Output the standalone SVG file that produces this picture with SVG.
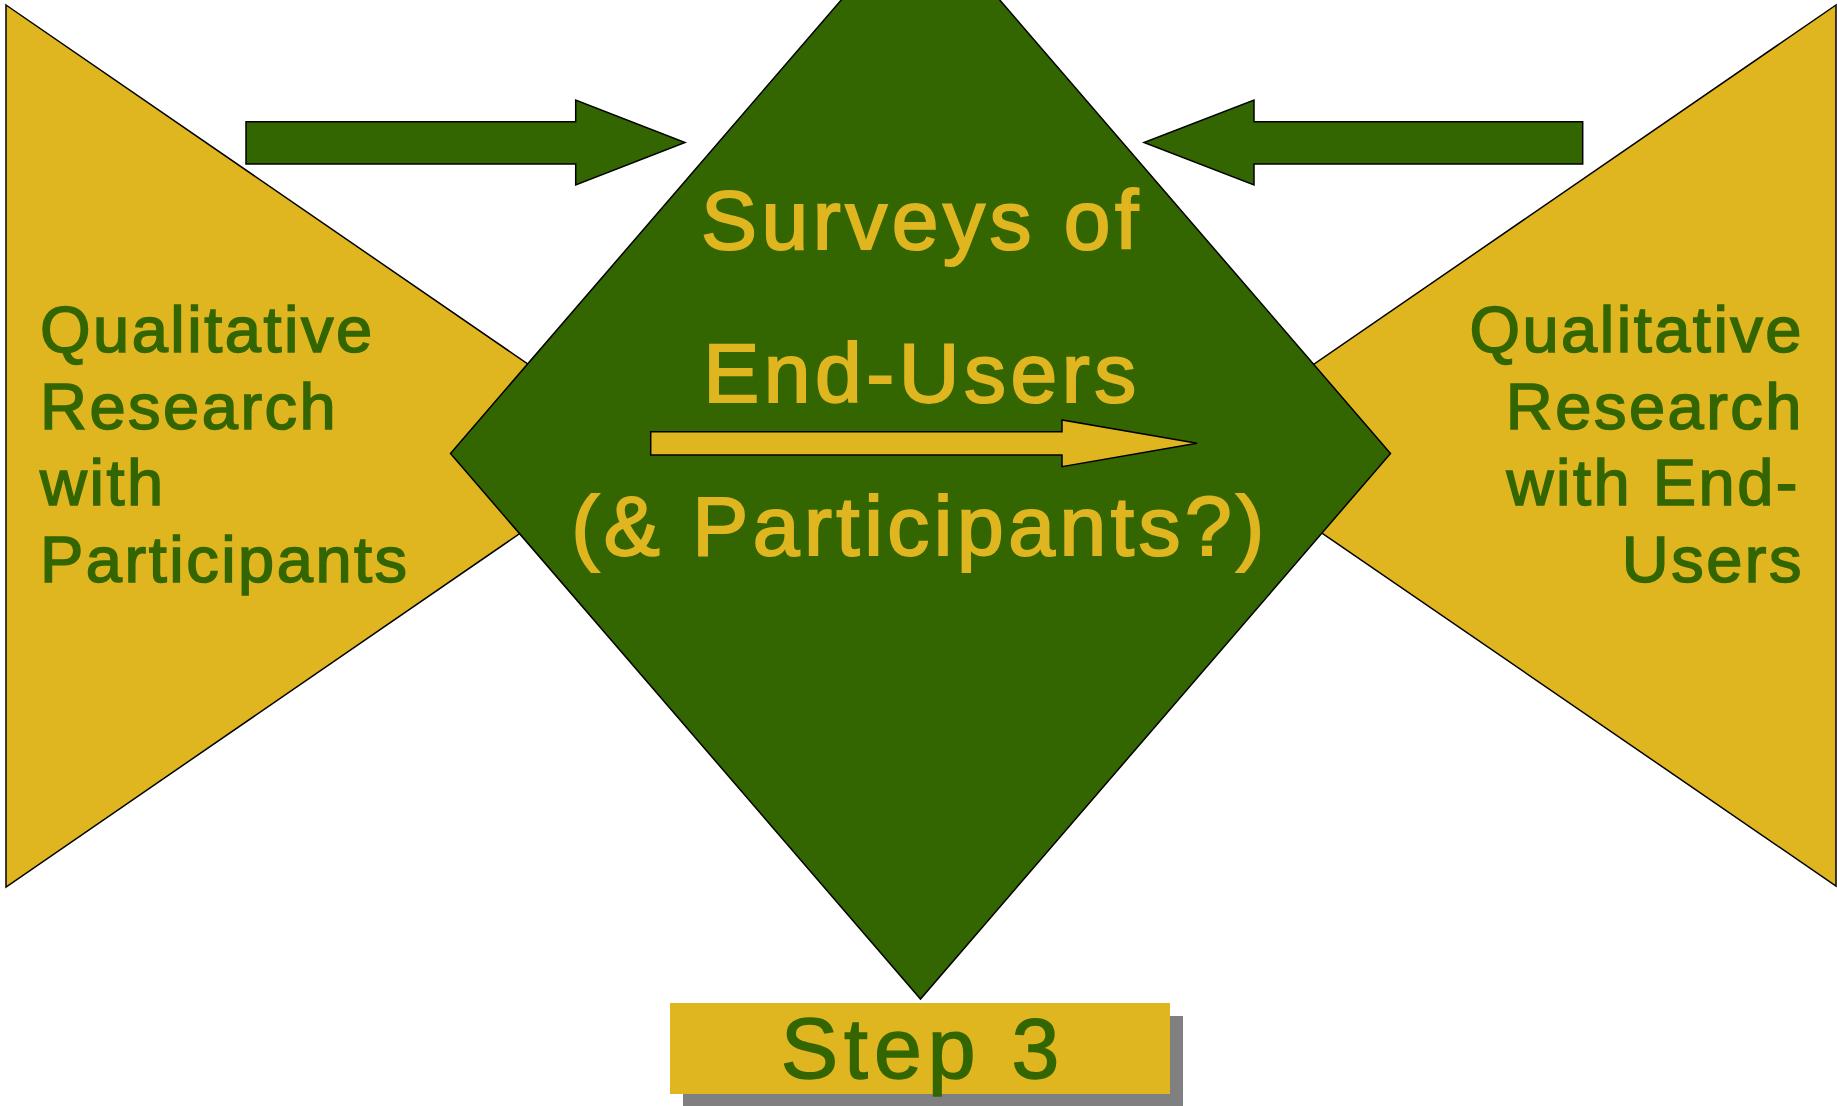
<svg xmlns="http://www.w3.org/2000/svg" width="1837" height="1106" viewBox="0 0 1837 1106">
  <style>
    .tri { fill: #E0B620; stroke: #000; stroke-width: 1.5; }
    .dia { fill: #336600; stroke: #000; stroke-width: 1.5; }
    .arr-g { fill: #336600; stroke: #000; stroke-width: 1.5; }
    .arr-y { fill: #E0B620; stroke: #000; stroke-width: 1.5; }
    .side { font-family: "Liberation Sans", Arial, sans-serif; font-size: 65px; fill: #336600; stroke: #336600; stroke-width: 1.6; letter-spacing: 2.5px; }
    .side-r { text-anchor: end; }
    .mid { font-family: "Liberation Sans", Arial, sans-serif; font-size: 84px; fill: #E0B620; stroke: #E0B620; stroke-width: 2; letter-spacing: 4.5px; text-anchor: middle; }
    .step { font-family: "Liberation Sans", Arial, sans-serif; font-size: 86px; fill: #336600; stroke: #336600; stroke-width: 1.5; letter-spacing: 6px; text-anchor: middle; }
  </style>
  <rect width="1837" height="1106" fill="#fff"/>

  <!-- left triangle: qualitative research with participants -->
  <g id="qual-participants">
    <polygon class="tri" points="6,5 647,446 6,887"/>
    <text class="side" x="40" y="352">Qualitative</text>
    <text class="side" x="40" y="429">Research</text>
    <text class="side" x="40" y="505">with</text>
    <text class="side" x="40" y="582">Participants</text>
  </g>

  <!-- right triangle: qualitative research with end-users -->
  <g id="qual-endusers">
    <polygon class="tri" points="1836,5 1195,446 1836,886"/>
    <text class="side side-r" x="1804" y="352">Qualitative</text>
    <text class="side side-r" x="1804" y="429">Research</text>
    <text class="side side-r" x="1800" y="505">with End-</text>
    <text class="side side-r" x="1804" y="582">Users</text>
  </g>

  <!-- central diamond: surveys -->
  <g id="surveys">
    <polygon class="dia" points="920.5,-92 1390.5,453.5 920.5,999 450.5,453.5"/>
    <text class="mid" x="922" y="249">Surveys of</text>
    <text class="mid" x="922" y="402">End-Users</text>
    <text class="mid" x="920" y="555">(&amp; Participants?)</text>
  </g>

  <!-- step label with drop shadow -->
  <g id="step-3">
    <rect x="683" y="1016" width="500" height="91" fill="#808080"/>
    <rect x="670" y="1003" width="500" height="91" fill="#E0B620"/>
    <text class="step" x="923" y="1078">Step 3</text>
  </g>

  <!-- block arrows -->
  <g id="connectors">
    <polygon class="arr-g" points="246,121.7 575.7,121.7 575.7,100 685,142.5 575.7,185 575.7,164 246,164"/>
    <polygon class="arr-g" points="1582.7,121.7 1254,121.7 1254,100 1144,142.5 1254,185 1254,164 1582.7,164"/>
    <polygon class="arr-y" points="650.7,431.7 1062,431.7 1062,420 1197,443.3 1062,466.7 1062,455 650.7,455"/>
  </g>
</svg>
